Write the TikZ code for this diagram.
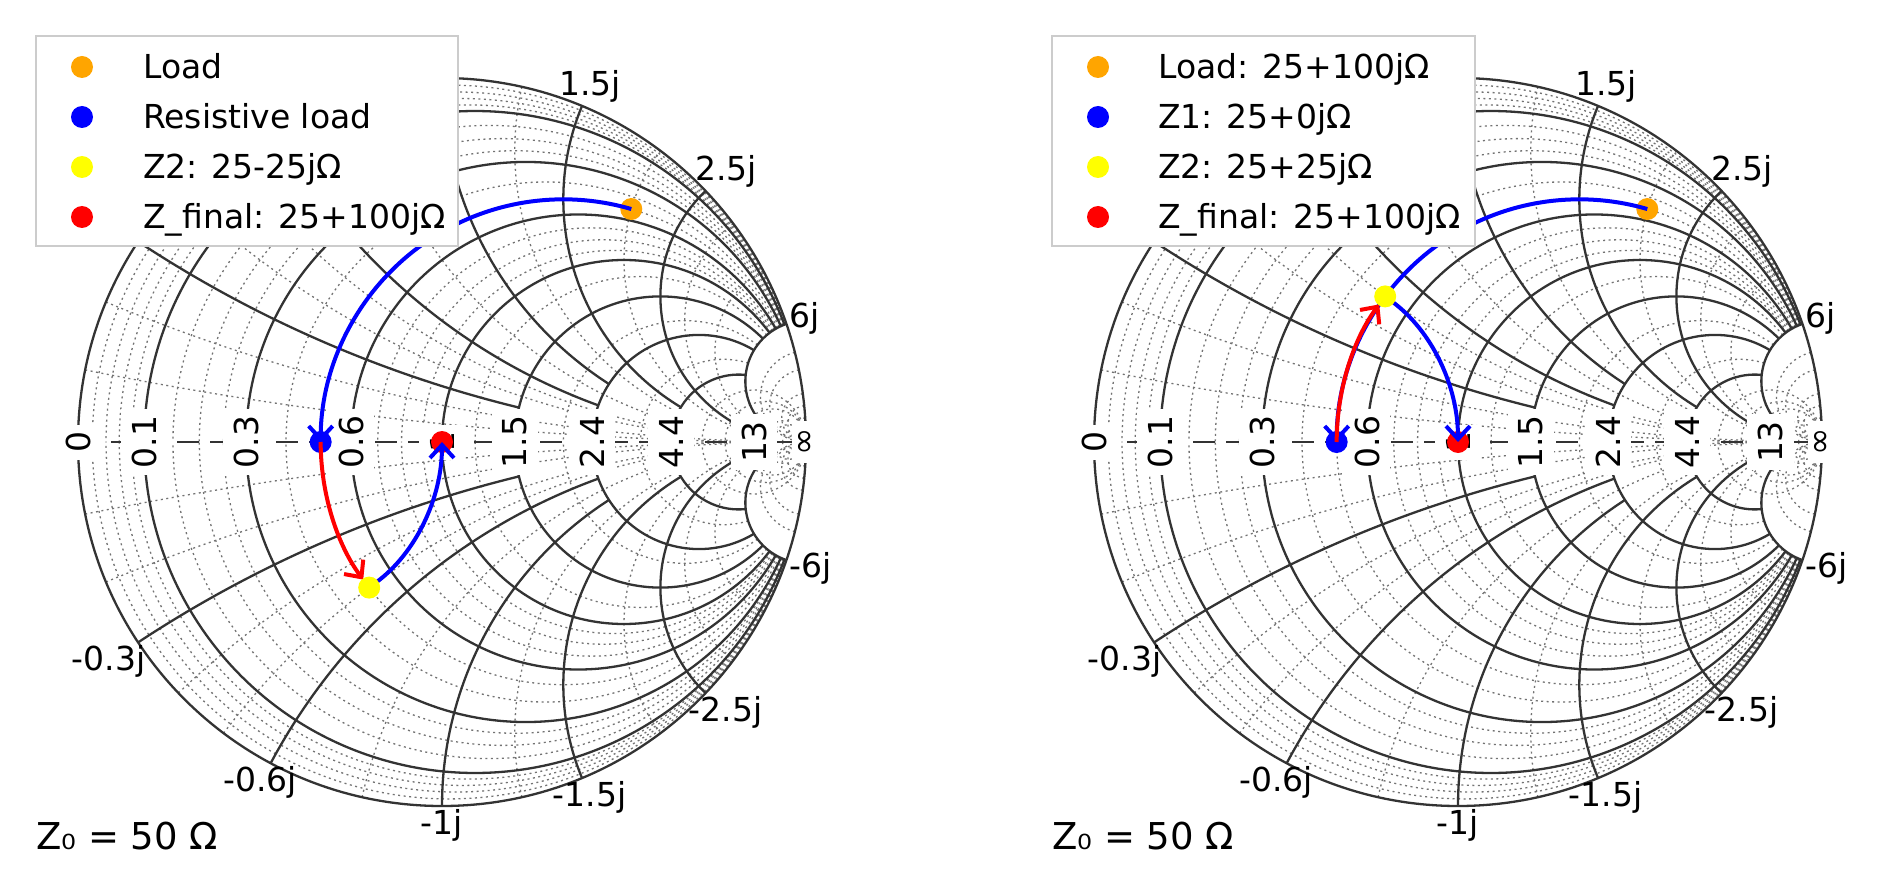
\documentclass[tikz,border=0pt]{standalone}
\usepackage{fontspec}
\setmainfont{DejaVu Sans}
\usetikzlibrary{arrows.meta}
\definecolor{mplorange}{HTML}{FFA500}
\definecolor{mplblue}{HTML}{0000FF}
\definecolor{mplyellow}{HTML}{FFFF00}
\definecolor{mplred}{HTML}{FF0000}
\newcommand\tickfont{\fontsize{33}{38}\selectfont}
\newcommand\zfont{\fontsize{37}{42}\selectfont}
\tikzset{
 majorl/.style={line width=2.3pt, draw=black!80},
 minorl/.style={line width=1.3pt, draw=black!55, dash pattern=on 2pt off 3.5pt},
 rlab/.style={fill=white, rotate=90, inner xsep=7pt, inner ysep=11pt, font=\tickfont},
 xlab/.style={inner sep=3pt, font=\tickfont},
 pathl/.style={line width=4pt, -{Straight Barb[length=13pt,width=24pt]}},
 dotn/.style={circle, minimum size=22pt, inner sep=0pt},
 legt/.style={anchor=base west, font=\tickfont, inner sep=0pt},
 legbox/.style={draw=black!20, line width=2pt, fill=white},
}
% resistance circle r from x=0 up to x=X (upper half)
\newcommand\smR[3]{%
  \pgfmathsetmacro\smc{#2/(1+#2)}%
  \pgfmathsetmacro\smrad{1/(1+#2)}%
  \pgfmathsetmacro\smden{(#2+1)*(#2+1)+#3*#3}%
  \pgfmathsetmacro\smgx{(#2*#2+#3*#3-1)/\smden}%
  \pgfmathsetmacro\smgy{2*#3/\smden}%
  \pgfmathsetmacro\smph{atan2(\smgy,\smgx-\smc)}%
  \draw[#1] ({\smc+\smrad*cos(\smph)},{\smrad*sin(\smph)}) arc[start angle=\smph,end angle=180,radius=\smrad];
}
% reactance arc x from r=0 to r=R (upper half)
\newcommand\smX[3]{%
  \pgfmathsetmacro\smxc{1/#2}%
  \pgfmathsetmacro\smaa{(#2*#2-1)/(1+#2*#2)}%
  \pgfmathsetmacro\smab{2*#2/(1+#2*#2)}%
  \pgfmathsetmacro\smta{atan2(\smab-\smxc,\smaa-1)}%
  \pgfmathsetmacro\smta{\smta<0?\smta+360:\smta}%
  \pgfmathsetmacro\smden{(#3+1)*(#3+1)+#2*#2}%
  \pgfmathsetmacro\smba{(#3*#3+#2*#2-1)/\smden}%
  \pgfmathsetmacro\smbb{2*#2/\smden}%
  \pgfmathsetmacro\smtb{atan2(\smbb-\smxc,\smba-1)}%
  \pgfmathsetmacro\smtb{\smtb<0?\smtb+360:\smtb}%
  \draw[#1] (\smaa,\smab) arc[start angle=\smta,end angle=\smtb,radius=\smxc];
}
\newcommand\smhalf{%
 \foreach \vv in {0.02,0.04,0.06,0.08,0.15,0.2,0.25,0.4,0.5,0.7,0.8,0.9,1.2,2,3.4}{\smR{minorl}{\vv}{6}}
 \foreach \vv in {6,8,10,16,20,30}{\smR{minorl}{\vv}{100}}
 \foreach \vv/\ww in {0.1/13,0.2/13,0.4/4.4,0.5/4.4,0.8/4.4,1.25/4.4,2/13,3/13,4/13,8/100,10/100,15/100,20/100,30/100}{\smX{minorl}{\vv}{\ww}}
 \foreach \vv in {0.1,0.3,0.6,1,1.5,2.4,4.4,13}{\smR{majorl}{\vv}{6}}
 \foreach \vv/\ww in {0.3/1.5,0.6/2.4,1/2.4,1.5/4.4,2.5/13,6/13}{\smX{majorl}{\vv}{\ww}}
}
\newcommand\smchart[2]{%
\begin{scope}[shift={(#2pt,-442pt)}, x=364pt, y=364pt]
 \smhalf
 \begin{scope}[yscale=-1]\smhalf\end{scope}
 \draw[majorl] (0,0) circle[radius=1];
 \draw[majorl, line width=2.6pt, dash pattern=on 22pt off 11pt] (-1,0) -- (1,0);
 \foreach \vv/\lab [count=\cnt] in {0/0,0.1/0.1,0.3/0.3,0.6/0.6,1/1,1.5/1.5,2.4/2.4,4.4/4.4,13/13}{
   \pgfmathsetmacro\gg{(\vv-1)/(\vv+1)}
   \node[rlab] (#1r\cnt) at (\gg,0) {\lab};}
 \node[rlab, inner ysep=6pt] (#1rinf) at (1,0) {∞};
 \foreach \vv/\lab [count=\cnt] in {0.3/0.3j,0.6/0.6j,1/1j,1.5/1.5j,2.5/2.5j,6/6j,-0.3/-0.3j,-0.6/-0.6j,-1/-1j,-1.5/-1.5j,-2.5/-2.5j,-6/-6j}{
   \pgfmathsetmacro\smang{atan2(2*\vv,\vv*\vv-1)}
   \pgfmathtruncatemacro\smanc{\smang+180}
   \node[xlab, anchor=\smanc] (#1x\cnt) at ({cos(\smang)},{sin(\smang)}) {\lab};}
\end{scope}}
\begin{document}
\begin{tikzpicture}
\path[use as bounding box, fill=white] (0,0) rectangle (1900pt,-885pt);
\smchart{L}{442}
\smchart{R}{1458}
% left chart data
\begin{scope}[shift={(442pt,-442pt)}, x=364pt, y=364pt]
 \coordinate (Lload) at (0.52,0.64);
 \coordinate (Lres) at (-0.33333,0);
 \coordinate (Lz2) at (-0.2,-0.4);
 \coordinate (Lfin) at (0,0);
 \node[dotn, fill=mplorange] (LloadD) at (Lload) {};
 \node[dotn, fill=mplblue] (LresD) at (Lres) {};
 \node[dotn, fill=mplred] (LfinD) at (Lfin) {};
 \draw[pathl, mplblue] (Lload) arc[start angle=73.74, end angle=180, radius=0.66667];
 \draw[pathl, mplred, shorten >=10pt] (Lres) arc[start angle=180, end angle=216.87, radius=0.66667];
 \draw[pathl, mplblue, shorten <=10pt] (Lz2) arc[start angle=-53.13, end angle=0, radius=0.5];
 \node[dotn, fill=mplyellow] (Lz2D) at (Lz2) {};
\end{scope}
% right chart data
\begin{scope}[shift={(1458pt,-442pt)}, x=364pt, y=364pt]
 \coordinate (Rload) at (0.52,0.64);
 \coordinate (Rres) at (-0.33333,0);
 \coordinate (Rz2) at (-0.2,0.4);
 \coordinate (Rfin) at (0,0);
 \node[dotn, fill=mplorange] (RloadD) at (Rload) {};
 \node[dotn, fill=mplblue] (RresD) at (Rres) {};
 \node[dotn, fill=mplred] (RfinD) at (Rfin) {};
 \draw[pathl, mplblue] (Rload) arc[start angle=73.74, end angle=180, radius=0.66667];
 \draw[pathl, mplred, shorten >=10pt] (Rres) arc[start angle=180, end angle=143.13, radius=0.66667];
 \draw[pathl, mplblue, shorten <=10pt] (Rz2) arc[start angle=53.13, end angle=0, radius=0.5];
 \node[dotn, fill=mplyellow] (Rz2D) at (Rz2) {};
\end{scope}
% legends
\draw[legbox] (36pt,-36pt) rectangle (458pt,-246pt);
\node[dotn, fill=mplorange] (lg1) at (82pt,-67pt) {};
\node[dotn, fill=mplblue] (lg2) at (82pt,-117pt) {};
\node[dotn, fill=mplyellow] (lg3) at (82pt,-167pt) {};
\node[dotn, fill=mplred] (lg4) at (82pt,-217pt) {};
\node[legt] (lt1) at (143pt,-79pt) {Load};
\node[legt] (lt2) at (143pt,-129pt) {Resistive load};
\node[legt] (lt3) at (143pt,-179pt) {Z2: 25-25jΩ};
\node[legt] (lt4) at (143pt,-229pt) {Z\_final: 25+100jΩ};
\draw[legbox] (1052pt,-36pt) rectangle (1475pt,-246pt);
\node[dotn, fill=mplorange] (rg1) at (1098pt,-67pt) {};
\node[dotn, fill=mplblue] (rg2) at (1098pt,-117pt) {};
\node[dotn, fill=mplyellow] (rg3) at (1098pt,-167pt) {};
\node[dotn, fill=mplred] (rg4) at (1098pt,-217pt) {};
\node[legt] (rt1) at (1158pt,-79pt) {Load: 25+100jΩ};
\node[legt] (rt2) at (1158pt,-129pt) {Z1: 25+0jΩ};
\node[legt] (rt3) at (1158pt,-179pt) {Z2: 25+25jΩ};
\node[legt] (rt4) at (1158pt,-229pt) {Z\_final: 25+100jΩ};
% Z0 labels
\node[anchor=west, font=\zfont, inner sep=0pt] (z0L) at (36pt,-836pt) {Z₀ = 50 Ω};
\node[anchor=west, font=\zfont, inner sep=0pt] (z0R) at (1052pt,-836pt) {Z₀ = 50 Ω};
\end{tikzpicture}
\end{document}
